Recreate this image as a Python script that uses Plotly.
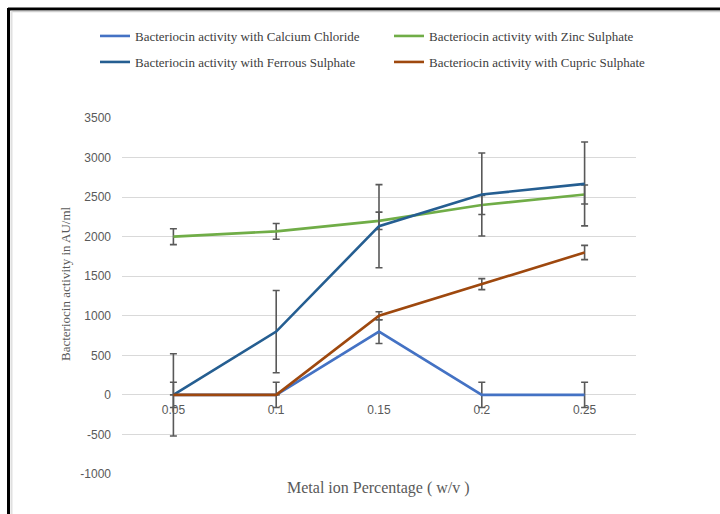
import plotly.graph_objects as go

# Metal ion concentration (% w/v)
concentrations = ["0.05", "0.1", "0.15", "0.2", "0.25"]

# Bacteriocin activity (AU/ml) and standard deviations per metal salt
calcium_chloride = [0, 0, 800, 0, 0]
calcium_chloride_err = [160, 160, 150, 160, 160]

zinc_sulphate = [2000, 2067, 2200, 2400, 2533]
zinc_sulphate_err = [100, 100, 110, 120, 120]

ferrous_sulphate = [0, 800, 2133, 2533, 2667]
ferrous_sulphate_err = [520, 520, 525, 525, 530]

cupric_sulphate = [0, 0, 1000, 1400, 1800]
cupric_sulphate_err = [0, 0, 50, 70, 90]

# Activity axis ticks (plain hyphen for negatives)
y_tick_values = [-1000, -500, 0, 500, 1000, 1500, 2000, 2500, 3000, 3500]
y_tick_labels = ["-1000", "-500", "0", "500", "1000", "1500", "2000", "2500", "3000", "3500"]

W, H = 720, 514
ML, MR, MT, MB = 122, 84, 118, 40
PW, PH = W - ML - MR, H - MT - MB
Y_MIN, Y_MAX = -1000, 3500


def px_x(p):
    return (p - ML) / PW


def px_y(p):
    return (H - MB - p) / PH


series = [
    ("Bacteriocin activity with Calcium Chloride", calcium_chloride, calcium_chloride_err, "#4472C4", "legend"),
    ("Bacteriocin activity with Zinc Sulphate", zinc_sulphate, zinc_sulphate_err, "#70AD47", "legend"),
    ("Bacteriocin activity with Ferrous Sulphate", ferrous_sulphate, ferrous_sulphate_err, "#255E91", "legend2"),
    ("Bacteriocin activity with Cupric Sulphate", cupric_sulphate, cupric_sulphate_err, "#9E480E", "legend2"),
]

fig = go.Figure()
for name, vals, errs, color, leg in series:
    fig.add_trace(go.Scatter(
        x=concentrations, y=vals, name=name, mode="lines",
        line=dict(color=color, width=2.6),
        error_y=dict(type="data", array=errs, visible=True,
                     color="#595959", thickness=1.6, width=3.5),
        legend=leg,
    ))

serif = "Liberation Serif, Times New Roman, serif"
sans = "Liberation Sans, Arial, sans-serif"

legend_common = dict(
    orientation="h", xanchor="left", yanchor="middle",
    font=dict(family=serif, size=13, color="#404040"),
    itemwidth=30, entrywidth=249, entrywidthmode="pixels",
    bgcolor="rgba(0,0,0,0)", traceorder="normal",
)

fig.update_layout(
    width=W, height=H,
    margin=dict(l=ML, r=MR, t=MT, b=MB),
    paper_bgcolor="white", plot_bgcolor="white",
    showlegend=True,
    legend=dict(x=px_x(95), y=px_y(36), **legend_common),
    legend2=dict(x=px_x(95), y=px_y(62), **legend_common),
    xaxis=dict(
        type="category", range=[-0.5, 4.5],
        anchor="free", position=(0 - Y_MIN) / (Y_MAX - Y_MIN),
        showgrid=False, showline=False, zeroline=False, ticks="",
        ticklabelstandoff=6,
        tickfont=dict(family=sans, size=12, color="#595959"),
    ),
    yaxis=dict(
        range=[Y_MIN, Y_MAX], tickmode="array",
        tickvals=y_tick_values, ticktext=y_tick_labels,
        showgrid=True, gridcolor="#D9D9D9", gridwidth=1,
        zeroline=True, zerolinecolor="#D9D9D9", zerolinewidth=1,
        showline=False, ticks="", ticklabelstandoff=10,
        tickfont=dict(family=sans, size=12, color="#595959"),
    ),
    annotations=[
        dict(text="Bacteriocin activity in AU/ml", textangle=-90,
             xref="paper", yref="paper", x=px_x(65), y=px_y(284),
             showarrow=False, xanchor="center", yanchor="middle",
             font=dict(family=serif, size=13, color="#595959")),
        dict(text="Metal ion Percentage ( w/v )",
             xref="paper", yref="paper", x=px_x(378), y=px_y(488),
             showarrow=False, xanchor="center", yanchor="middle",
             font=dict(family=serif, size=16, color="#595959")),
    ],
    shapes=[
        # frame edges
        dict(type="line", xref="paper", yref="paper",
             x0=px_x(8), x1=px_x(W + 5), y0=px_y(9), y1=px_y(9),
             line=dict(color="black", width=3)),
        dict(type="line", xref="paper", yref="paper",
             x0=px_x(8.5), x1=px_x(8.5), y0=px_y(8), y1=px_y(H + 5),
             line=dict(color="black", width=3)),
        dict(type="line", xref="paper", yref="paper",
             x0=px_x(11), x1=px_x(W + 5), y0=px_y(11.5), y1=px_y(11.5),
             line=dict(color="#D0D0D0", width=1.5)),
        dict(type="line", xref="paper", yref="paper",
             x0=px_x(11.5), x1=px_x(11.5), y0=px_y(11), y1=px_y(H + 5),
             line=dict(color="#E0E0E0", width=2)),
    ],
)

fig.write_html("out.html")
